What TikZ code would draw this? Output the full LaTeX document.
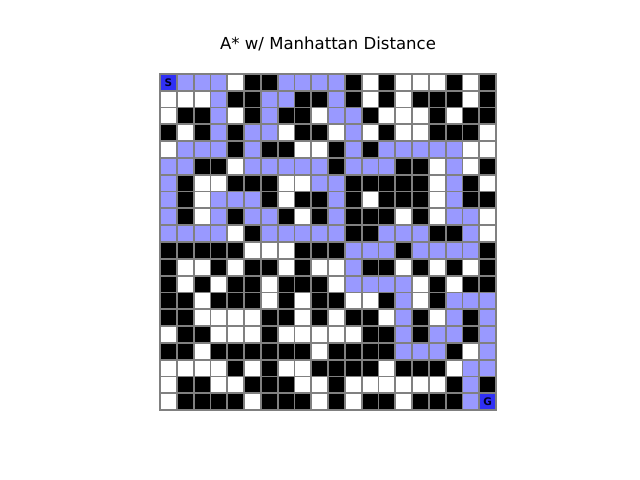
\documentclass[tikz,border=0pt]{standalone}
\usepackage{fontspec}
\setmainfont{DejaVu Sans}
\definecolor{cellW}{RGB}{255,255,255}
\definecolor{cellB}{RGB}{0,0,0}
\definecolor{cellP}{RGB}{153,153,255}
\definecolor{cellS}{RGB}{48,48,245}
\definecolor{cellG}{RGB}{48,48,245}
\definecolor{edgegray}{RGB}{128,128,128}
\begin{document}
\begin{tikzpicture}[x=1bp,y=-1bp,
  cell/.style={draw=edgegray, line width=1.8bp, minimum size=16.8bp, inner sep=0pt, outer sep=0pt, anchor=north west},
  endlabel/.style={font=\bfseries\fontsize{10.5}{10.5}\selectfont, text=black!85!blue, inner sep=0pt}]
\useasboundingbox (0,0) rectangle (640,480);
\node[font=\fontsize{16.6}{20}\selectfont, anchor=base, inner sep=0pt] (title) at (328,50) {A* w/ Manhattan Distance};
\foreach \rowlist [count=\r from 0] in {
{S,P,P,P,W,B,B,P,P,P,P,B,W,B,W,W,W,B,W,B},
{W,W,W,P,B,B,P,P,B,B,P,B,W,B,W,B,B,B,W,B},
{W,B,B,P,W,B,P,B,B,W,P,P,B,W,W,W,B,W,B,B},
{B,W,B,P,B,P,P,W,B,B,W,P,W,B,W,W,B,B,B,W},
{W,P,P,P,B,P,B,B,W,W,B,P,B,P,P,P,P,P,W,W},
{P,P,B,B,W,P,P,P,P,P,B,P,P,P,B,B,W,P,W,B},
{P,B,W,W,B,B,B,W,W,P,P,B,B,B,B,B,W,P,B,W},
{P,B,W,P,P,P,B,W,B,B,P,B,W,B,B,B,W,P,B,B},
{P,B,W,P,B,P,P,B,W,B,P,B,B,B,W,B,W,P,P,W},
{P,P,P,P,W,B,P,P,P,P,P,B,B,P,P,P,B,B,P,W},
{B,B,B,B,B,W,W,W,B,B,B,P,P,P,B,P,P,P,P,B},
{B,W,W,B,W,B,B,W,B,W,W,P,B,B,W,B,W,B,W,B},
{B,W,B,W,B,B,W,B,B,B,W,P,P,P,P,W,B,W,B,B},
{B,B,W,B,B,B,W,B,W,B,B,W,W,B,P,W,B,P,P,P},
{B,B,W,W,W,W,B,B,W,B,W,B,B,W,P,B,W,P,B,P},
{W,B,B,W,W,W,B,W,W,W,W,W,B,B,P,B,P,P,B,P},
{B,B,W,B,B,B,B,B,B,W,B,B,B,B,P,P,P,B,W,P},
{W,W,W,W,B,W,B,W,W,B,B,B,B,W,B,B,B,W,P,P},
{W,B,B,W,W,B,B,B,W,W,B,W,W,W,W,W,W,B,P,B},
{W,B,B,B,B,W,B,B,B,W,B,W,B,B,W,B,B,B,P,G}} {
  \foreach \c [count=\k from 0] in \rowlist {
    \node[cell, fill=cell\c] (c-\r-\k) at ({160+16.8*\k},{74+16.8*\r}) {};
  }
}
\node[endlabel] (slabel) at (c-0-0.center) {S};
\node[endlabel] (glabel) at (c-19-19.center) {G};
\end{tikzpicture}
\end{document}
